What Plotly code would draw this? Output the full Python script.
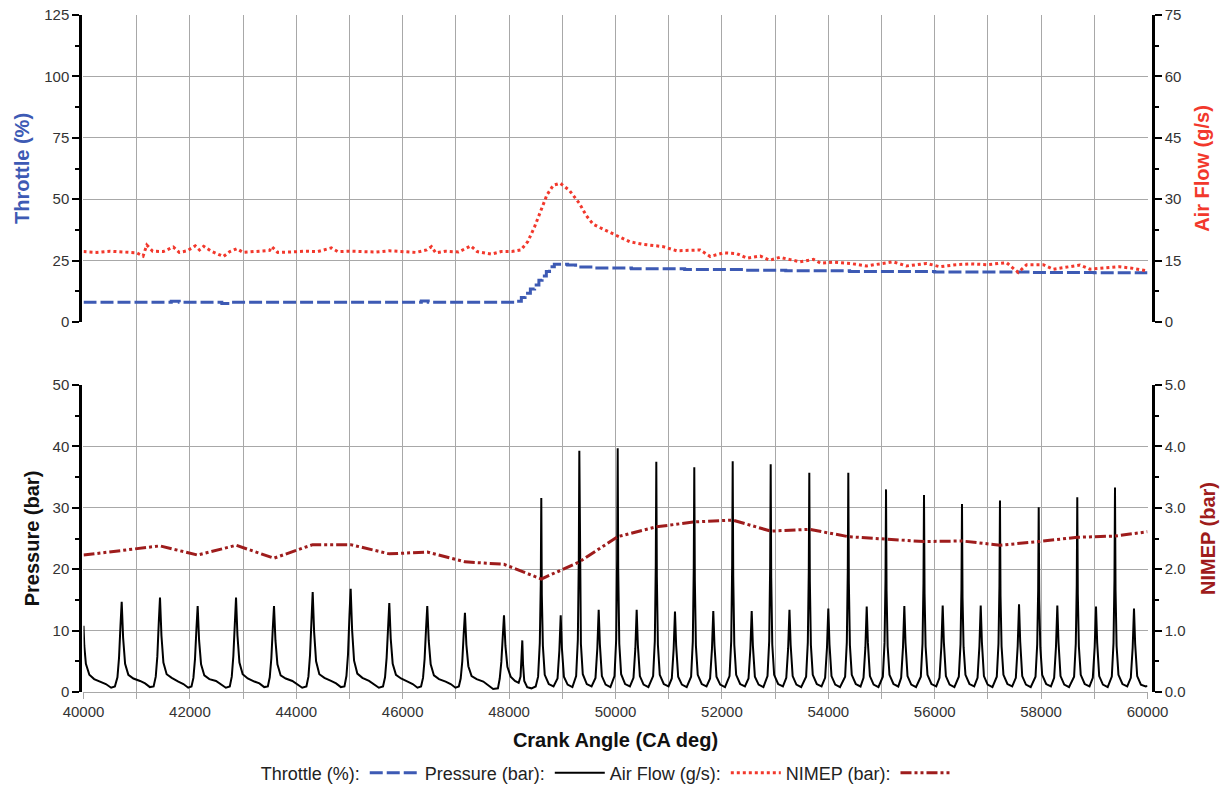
import plotly.graph_objects as go

# ---------------- data ----------------
throttle_ca = [40000, 41650, 41800, 42600, 42750, 46350, 46480, 48150, 48230, 48300, 48400,
               48480, 48560, 48620, 48700, 48760, 48850, 49100, 49250, 49600, 50300, 51300,
               52400, 53200, 54400, 56000, 57800, 59000, 60000]
throttle_pct = [8.0, 8.4, 8.0, 7.5, 8.0, 8.6, 8.0, 8.4, 10.0, 11.7, 13.4,
                15.1, 17.0, 18.7, 20.6, 22.5, 23.5, 23.2, 22.4, 22.0, 21.7, 21.4,
                21.1, 20.9, 20.6, 20.4, 20.2, 20.1, 20.1]

airflow_ca = [40000, 40250, 40500, 40750, 41000, 41120, 41190, 41300, 41500, 41690, 41800,
              41950, 42100, 42180, 42260, 42400, 42630, 42750, 42880, 43000, 43250, 43500,
              43540, 43650, 43900, 44150, 44400, 44660, 44780, 45000, 45250, 45500, 45750,
              46000, 46250, 46450, 46540, 46620, 46800, 47050, 47280, 47400, 47670, 47850,
              48050, 48220, 48350, 48480, 48610, 48710, 48830, 48960, 49130, 49320, 49450,
              49580, 49780, 50030, 50270, 50500, 50650, 50900, 51150, 51400, 51590, 51780,
              52030, 52280, 52470, 52720, 52900, 53090, 53470, 53720, 53850, 54100, 54410,
              54720, 54970, 55220, 55470, 55850, 56100, 56400, 56660, 56980, 57350, 57570,
              57730, 58040, 58230, 58500, 58730, 58920, 59200, 59480, 59730, 60000]
airflow_gs = [17.2, 17.0, 17.3, 17.1, 16.9, 16.1, 18.8, 17.3, 17.2, 18.3, 17.0,
              17.4, 18.6, 17.6, 18.5, 17.3, 16.0, 17.2, 17.9, 17.0, 17.3, 17.5,
              18.4, 17.0, 17.1, 17.3, 17.2, 18.1, 17.2, 17.3, 17.2, 17.1, 17.4,
              17.2, 17.0, 17.6, 18.4, 16.9, 17.3, 17.1, 18.6, 17.2, 16.6, 17.2,
              17.2, 17.6, 19.6, 23.3, 27.6, 31.0, 33.4, 33.9, 32.2, 29.0, 26.0,
              23.9, 22.6, 21.0, 19.6, 19.0, 18.8, 18.4, 17.4, 17.6, 17.6, 16.0,
              16.9, 16.7, 15.6, 16.1, 15.1, 15.8, 14.7, 15.3, 14.4, 14.6, 14.3,
              13.7, 14.2, 14.7, 13.7, 14.3, 13.5, 14.0, 14.2, 14.0, 14.5, 12.1,
              14.0, 14.0, 12.9, 13.4, 13.9, 12.9, 13.2, 13.5, 13.1, 12.5]

nimep_ca = [40000, 40718, 41438, 42146, 42867, 43581, 44308, 45022, 45748, 46462, 47170,
            47904, 48605, 49320, 50041, 50767, 51481, 52203, 52917, 53643, 54376, 55085,
            55799, 56513, 57227, 57955, 58680, 59389, 60000]
nimep_bar = [2.23, 2.30, 2.38, 2.23, 2.39, 2.18, 2.40, 2.40, 2.25, 2.28, 2.12,
             2.08, 1.84, 2.12, 2.53, 2.69, 2.77, 2.80, 2.62, 2.65, 2.53, 2.49,
             2.45, 2.46, 2.39, 2.45, 2.52, 2.54, 2.61]

# cylinder pressure trace, (crank angle, bar), read cycle by cycle
pressure_trace = [
    (40000, 10.8), (40015, 7.5), (40045, 4.6), (40110, 2.8), (40200, 2.1), (40330, 1.7), (40420, 1.3), (40520, 0.7), (40590, 0.9),
    (40638, 2.4), (40668, 5.6), (40696, 11.0), (40718, 14.7), (40745, 8.8), (40782, 4.6), (40843, 2.8), (40938, 2.2), (41063, 1.8), (41158, 1.4), (41248, 0.8), (41318, 0.9),
    (41358, 2.5), (41388, 5.8), (41416, 11.5), (41438, 15.4), (41465, 9.2), (41502, 4.8), (41563, 2.9), (41658, 2.3), (41783, 1.7), (41878, 1.3), (41968, 0.7), (42030, 0.9),
    (42066, 2.3), (42096, 5.4), (42124, 10.5), (42146, 14.0), (42173, 8.4), (42210, 4.5), (42271, 2.7), (42366, 2.1), (42491, 1.8), (42586, 1.2), (42676, 0.7), (42750, 0.9),
    (42787, 2.5), (42817, 5.9), (42845, 11.6), (42867, 15.4), (42894, 9.2), (42931, 4.8), (42992, 2.9), (43087, 2.2), (43212, 1.7), (43307, 1.4), (43397, 0.8), (43465, 0.9),
    (43501, 2.4), (43531, 5.5), (43559, 10.5), (43581, 14.0), (43608, 8.4), (43645, 4.5), (43706, 2.7), (43801, 2.2), (43926, 1.8), (44021, 1.3), (44111, 0.7), (44190, 0.9),
    (44228, 2.5), (44258, 6.0), (44286, 12.2), (44308, 16.3), (44335, 9.8), (44372, 5.0), (44433, 2.9), (44528, 2.3), (44653, 1.8), (44748, 1.4), (44838, 0.8), (44905, 0.9),
    (44942, 2.6), (44972, 6.1), (45000, 12.6), (45022, 16.8), (45049, 10.1), (45086, 5.1), (45147, 3.0), (45242, 2.3), (45367, 1.8), (45462, 1.3), (45552, 0.7), (45630, 0.9),
    (45668, 2.4), (45698, 5.6), (45726, 10.9), (45748, 14.5), (45775, 8.7), (45812, 4.6), (45873, 2.8), (45968, 2.2), (46093, 1.7), (46188, 1.3), (46278, 0.7), (46345, 0.9),
    (46382, 2.3), (46412, 5.4), (46440, 10.5), (46462, 14.0), (46489, 8.4), (46526, 4.5), (46587, 2.7), (46682, 2.1), (46807, 1.7), (46902, 1.3), (46992, 0.7), (47055, 0.9),
    (47090, 2.2), (47120, 5.0), (47148, 9.7), (47170, 12.9), (47197, 7.7), (47234, 4.2), (47295, 2.6), (47390, 2.1), (47515, 1.7), (47610, 1.1), (47700, 0.5), (47790, 0.6),
    (47824, 2.2), (47854, 4.9), (47882, 9.4), (47904, 12.5), (47931, 7.5), (47968, 4.1), (48029, 2.5), (48110, 1.8), (48180, 1.5),
    (48215, 2.5), (48232, 5.5), (48248, 8.4), (48262, 4.5), (48285, 1.8), (48340, 0.8), (48420, 0.6), (48500, 0.9),
    (48545, 2.5), (48577, 8.0), (48595, 17.4), (48605, 31.6), (48615, 15.8), (48635, 7.5), (48670, 2.8), (48745, 1.3), (48835, 0.9),
    (48910, 2.2), (48945, 6.8), (48970, 12.5), (48992, 7.2), (49030, 2.5), (49100, 1.2), (49190, 0.8),
    (49260, 2.6), (49292, 8.5), (49310, 21.6), (49320, 39.3), (49330, 19.7), (49350, 7.8), (49385, 2.9), (49460, 1.3), (49550, 0.9),
    (49624, 2.3), (49659, 7.2), (49684, 13.4), (49706, 7.8), (49744, 2.6), (49814, 1.2), (49904, 0.8),
    (49981, 2.6), (50013, 8.6), (50031, 21.8), (50041, 39.7), (50051, 19.9), (50071, 7.9), (50106, 2.9), (50181, 1.3), (50271, 0.9),
    (50338, 2.3), (50373, 7.1), (50398, 13.4), (50420, 7.7), (50458, 2.6), (50528, 1.2), (50618, 0.8),
    (50707, 2.6), (50739, 8.3), (50757, 20.6), (50767, 37.5), (50777, 18.8), (50797, 7.7), (50832, 2.8), (50907, 1.3), (50997, 0.9),
    (51058, 2.2), (51093, 7.0), (51118, 13.1), (51140, 7.6), (51178, 2.5), (51248, 1.2), (51338, 0.8),
    (51421, 2.5), (51453, 8.2), (51471, 20.1), (51481, 36.6), (51491, 18.3), (51511, 7.6), (51546, 2.8), (51621, 1.3), (51711, 0.9),
    (51778, 2.2), (51813, 7.0), (51838, 13.2), (51860, 7.6), (51898, 2.5), (51968, 1.2), (52058, 0.8),
    (52143, 2.6), (52175, 8.3), (52193, 20.7), (52203, 37.6), (52213, 18.8), (52233, 7.7), (52268, 2.8), (52343, 1.3), (52433, 0.9),
    (52500, 2.2), (52535, 7.0), (52560, 13.2), (52582, 7.6), (52620, 2.5), (52690, 1.2), (52780, 0.8),
    (52857, 2.6), (52889, 8.3), (52907, 20.4), (52917, 37.1), (52927, 18.6), (52947, 7.7), (52982, 2.8), (53057, 1.3), (53147, 0.9),
    (53210, 2.3), (53245, 7.1), (53270, 13.4), (53292, 7.7), (53330, 2.6), (53400, 1.2), (53490, 0.8),
    (53583, 2.5), (53615, 8.1), (53633, 19.6), (53643, 35.7), (53653, 17.9), (53673, 7.6), (53708, 2.8), (53783, 1.3), (53873, 0.9),
    (53940, 2.3), (53975, 7.2), (54000, 13.6), (54022, 7.8), (54060, 2.6), (54130, 1.2), (54220, 0.8),
    (54316, 2.5), (54348, 8.1), (54366, 19.6), (54376, 35.7), (54386, 17.9), (54406, 7.6), (54441, 2.8), (54516, 1.3), (54606, 0.9),
    (54662, 2.3), (54697, 7.3), (54722, 13.9), (54744, 8.0), (54782, 2.6), (54852, 1.2), (54942, 0.8),
    (55025, 2.5), (55057, 8.0), (55075, 18.2), (55085, 33.0), (55095, 16.5), (55115, 7.5), (55150, 2.8), (55225, 1.3), (55315, 0.9),
    (55369, 2.3), (55404, 7.3), (55429, 14.0), (55451, 8.0), (55489, 2.6), (55559, 1.2), (55649, 0.8),
    (55739, 2.5), (55771, 7.9), (55789, 17.7), (55799, 32.1), (55809, 16.1), (55829, 7.4), (55864, 2.8), (55939, 1.3), (56029, 0.9),
    (56090, 2.3), (56125, 7.4), (56150, 14.1), (56172, 8.1), (56210, 2.6), (56280, 1.2), (56370, 0.8),
    (56453, 2.5), (56485, 7.8), (56503, 16.8), (56513, 30.6), (56523, 15.3), (56543, 7.3), (56578, 2.8), (56653, 1.3), (56743, 0.9),
    (56805, 2.3), (56840, 7.4), (56865, 14.1), (56887, 8.1), (56925, 2.6), (56995, 1.2), (57085, 0.8),
    (57167, 2.5), (57199, 7.9), (57217, 17.2), (57227, 31.2), (57237, 15.6), (57257, 7.4), (57292, 2.8), (57367, 1.3), (57457, 0.9),
    (57525, 2.3), (57560, 7.5), (57585, 14.3), (57607, 8.2), (57645, 2.6), (57715, 1.2), (57805, 0.8),
    (57895, 2.5), (57927, 7.8), (57945, 16.6), (57955, 30.1), (57965, 15.1), (57985, 7.3), (58020, 2.8), (58095, 1.3), (58185, 0.9),
    (58245, 2.3), (58280, 7.4), (58305, 14.1), (58327, 8.1), (58365, 2.6), (58435, 1.2), (58525, 0.8),
    (58620, 2.5), (58652, 7.9), (58670, 17.4), (58680, 31.7), (58690, 15.9), (58710, 7.4), (58745, 2.8), (58820, 1.3), (58910, 0.9),
    (58972, 2.3), (59007, 7.3), (59032, 13.9), (59054, 8.0), (59092, 2.6), (59162, 1.2), (59252, 0.8),
    (59329, 2.5), (59361, 8.0), (59379, 18.3), (59389, 33.3), (59399, 16.7), (59419, 7.5), (59454, 2.8), (59529, 1.3), (59619, 0.9),
    (59686, 2.3), (59721, 7.2), (59746, 13.6), (59768, 7.8), (59806, 2.6), (59876, 1.2), (59966, 0.9),
    (60000, 1.0),
]
pressure_ca = [p[0] for p in pressure_trace]
pressure_bar = [p[1] for p in pressure_trace]

legend_labels = ["Throttle (%):", "Pressure (bar):", "Air Flow (g/s):", "NIMEP (bar):"]

# ---------------- styling ----------------
FONT = "Liberation Sans, Arial, Helvetica, sans-serif"
BLUE = "#3d5ab4"
RED = "#f2382c"
DRED = "#9e1c1c"
GRID = "#a8a8a8"
TICKC = "#333333"
XDOM = [0.00326, 0.99488]
TOP_DOM = [0.54653, 1.0]
BOT_DOM = [0.0, 0.45347]

tickfont = dict(family=FONT, size=15, color=TICKC)


def tfont(c):
    return dict(family=FONT, size=20, color=c, weight="bold")


def yax(**kw):
    base = dict(showline=True, linecolor="black", linewidth=2.5, ticks="outside",
                ticklen=7, tickwidth=1.5, tickcolor="black", tickfont=tickfont,
                zeroline=False, fixedrange=True)
    base.update(kw)
    return base


fig = go.Figure()
# background subplot carrying the vertical grid across both panels
fig.add_trace(go.Scatter(x=[], y=[], xaxis="x", yaxis="y", showlegend=False, hoverinfo="skip"))
# legend: label text precedes each line sample, as in the reference
fig.add_trace(go.Scatter(x=[None], y=[None], xaxis="x2", yaxis="y2", mode="lines",
                         name=legend_labels[0], line=dict(color="rgba(0,0,0,0)", width=3),
                         hoverinfo="skip"))
fig.add_trace(go.Scatter(x=throttle_ca, y=throttle_pct, xaxis="x2", yaxis="y2", mode="lines",
                         name=legend_labels[1],
                         line=dict(color=BLUE, width=3, dash="13px,4px", shape="hv"),
                         hovertemplate="Throttle (%%): %{y:.1f}<extra></extra>"))
fig.add_trace(go.Scatter(x=pressure_ca, y=pressure_bar, xaxis="x3", yaxis="y4", mode="lines",
                         name=legend_labels[2], line=dict(color="black", width=2),
                         hovertemplate="Pressure (bar): %{y:.1f}<extra></extra>"))
fig.add_trace(go.Scatter(x=airflow_ca, y=airflow_gs, xaxis="x2", yaxis="y3", mode="lines",
                         name=legend_labels[3], line=dict(color=RED, width=3, dash="3px,3px"),
                         hovertemplate="Air Flow (g/s): %{y:.1f}<extra></extra>"))
fig.add_trace(go.Scatter(x=nimep_ca, y=nimep_bar, xaxis="x3", yaxis="y5", mode="lines",
                         name=" ", line=dict(color=DRED, width=3, dash="11px,3px,3px,3px,3px,3px"),
                         hovertemplate="NIMEP (bar): %{y:.2f}<extra></extra>"))

fig.update_layout(
    width=1225, height=785,
    margin=dict(l=80, r=72, t=15, b=93, autoexpand=False),
    paper_bgcolor="white", plot_bgcolor="rgba(0,0,0,0)",
    font=dict(family=FONT, color=TICKC),
    xaxis=dict(domain=XDOM, range=[40000, 60000], anchor="y", showgrid=True, gridcolor=GRID,
               gridwidth=1.3, tick0=40000, dtick=1000, showticklabels=False, ticks="",
               zeroline=False, showline=False, fixedrange=True),
    yaxis=dict(domain=[0, 1], range=[0, 1], visible=False, fixedrange=True),
    xaxis2=dict(domain=XDOM, range=[40000, 60000], anchor="y2", visible=False, fixedrange=True),
    yaxis2=yax(domain=TOP_DOM, range=[0, 125], tick0=0, dtick=25, anchor="free", position=0,
               side="left", showgrid=True, gridcolor=GRID, gridwidth=1.3,
               minor=dict(ticks="outside", ticklen=4, dtick=12.5, tickcolor="black"),
               title=dict(text="Throttle (%)", font=tfont(BLUE), standoff=8)),
    yaxis3=yax(overlaying="y2", range=[0, 75], tick0=0, dtick=15, anchor="free", position=1,
               side="right", showgrid=False,
               minor=dict(ticks="outside", ticklen=4, dtick=7.5, tickcolor="black"),
               title=dict(text="Air Flow (g/s)", font=tfont(RED), standoff=14)),
    xaxis3=dict(domain=XDOM, range=[40000, 60000], anchor="y4", showgrid=False, tick0=40000,
                dtick=2000, tickformat="d", ticks="outside", ticklen=6, tickcolor=GRID,
                tickwidth=1.3, showline=True, linecolor=GRID, linewidth=1.3,
                minor=dict(ticks="outside", ticklen=6, dtick=1000, tickcolor=GRID),
                tickfont=tickfont, zeroline=False, fixedrange=True,
                title=dict(text="Crank Angle (CA deg)", font=tfont("#111111"), standoff=13)),
    yaxis4=yax(domain=BOT_DOM, range=[0, 50], tick0=0, dtick=10, anchor="free", position=0,
               side="left", showgrid=True, gridcolor=GRID, gridwidth=1.3,
               minor=dict(ticks="outside", ticklen=4, dtick=5, tickcolor="black"),
               title=dict(text="Pressure (bar)", font=tfont("#111111"), standoff=6)),
    yaxis5=yax(overlaying="y4", range=[0, 5], tick0=0, dtick=1, tickformat=".1f", anchor="free",
               position=1, side="right", showgrid=False,
               minor=dict(ticks="outside", ticklen=4, dtick=0.5, tickcolor="black"),
               title=dict(text="NIMEP (bar)", font=tfont(DRED), standoff=16)),
    showlegend=True,
    legend=dict(orientation="h", x=0.1125, xanchor="left", y=-0.1196, yanchor="middle",
                font=dict(family=FONT, size=18, color="#222222"), itemwidth=50,
                bgcolor="rgba(0,0,0,0)", traceorder="normal"),
)

fig.write_html("out.html")
